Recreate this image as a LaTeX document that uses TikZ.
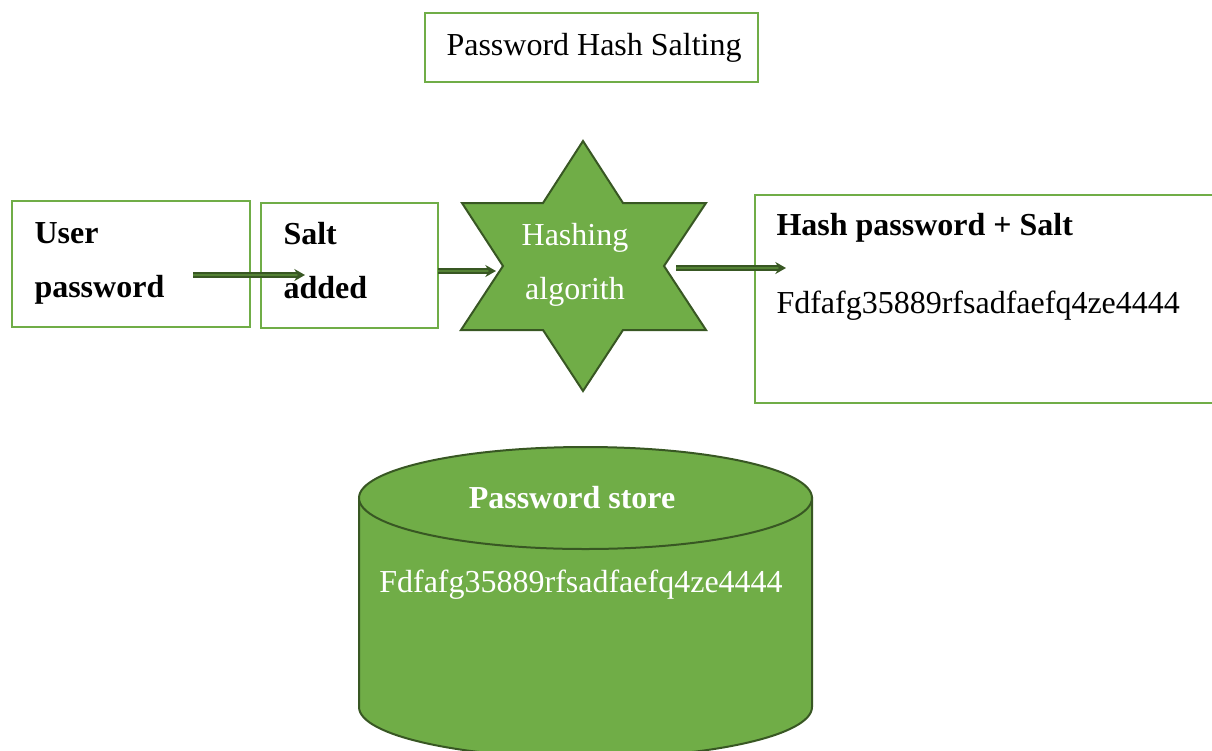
\documentclass[tikz,border=0pt]{standalone}
\usepackage{fontspec}
\setmainfont{Liberation Serif}
\usetikzlibrary{arrows.meta}

\definecolor{boxgreen}{HTML}{70AD47}
\definecolor{darkgreen}{HTML}{385723}
\definecolor{midgreen}{HTML}{548235}

\tikzset{every picture/.style={line width=0.75pt}}
\tikzset{
  box/.style={draw=boxgreen, line width=1.5},
  shapefill/.style={draw=darkgreen, fill=boxgreen, line width=1.5},
  flow/.style={draw=darkgreen, double=midgreen, double distance=1.8pt, line width=1.4pt, -{Stealth[length=8pt,width=9pt]}},
  txt/.style={inner sep=0pt, font=\fontsize{24}{40.5}\selectfont},
}

\begin{document}
\begin{tikzpicture}[x=0.75pt,y=0.75pt,yscale=-1,xscale=1]
	\useasboundingbox (0,0) rectangle (1212,750);
	\clip (0,0) rectangle (1212,750);
	
	%Shape: Rectangle [title]
	\draw [box] (425,13) rectangle (758,82);
	%Shape: Rectangle [user]
	\draw [box] (12,201) rectangle (250,327);
	%Shape: Rectangle [salt]
	\draw [box] (261,203) rectangle (438,328);
	%Shape: Rectangle [result] - runs off the right edge
	\draw [box] (755,195) rectangle (1225,403);
	
	%Shape: Star
	\draw [shapefill] (583,141) -- (623,203) -- (706,203) -- (664,266) -- (706,330) -- (623,330) -- (583,391) -- (543,330) -- (461,330) -- (503,266) -- (462,203) -- (543,203) -- cycle;
	
	%Shape: Can
	\draw [shapefill] (359,498) -- (359,707) arc [start angle=180, end angle=0, x radius=226.5, y radius=51] -- (812,498) -- cycle;
	\draw [shapefill] (585.5,498) ellipse [x radius=226.5, y radius=51];
	
	% Text Node
	\node (title) [txt, anchor=base west] at (446,55) {Password Hash Salting};
	% Text Node
	\node (user) [txt, anchor=north west, align=left, font=\fontsize{24}{40.5}\selectfont\bfseries] at (34,222) {User\\password};
	% Text Node
	\node (salt) [txt, anchor=north west, align=left, font=\fontsize{24}{40.5}\selectfont\bfseries] at (283,222) {Salt\\added};
	% Text Node
	\node (hashing) [txt, anchor=north, align=center, text=white] at (575,223) {Hashing\\algorith};
	% Text Node
	\node (hashpw) [txt, anchor=base west, font=\fontsize{24}{40.5}\selectfont\bfseries] at (776,235) {Hash password + Salt};
	% Text Node
	\node (hashval) [txt, anchor=base west] at (776,313) {Fdfafg35889rfsadfaefq4ze4444};
	% Text Node
	\node (store) [txt, anchor=base, text=white, font=\fontsize{24}{40.5}\selectfont\bfseries] at (572,508) {Password store};
	% Text Node
	\node (storeval) [txt, anchor=base, text=white] at (581,592) {Fdfafg35889rfsadfaefq4ze4444};
	
	%Arrows
	\coordinate (a1s) at (193,275);
	\coordinate (a1e) at (305,275);
	\coordinate (a2s) at (438,271);
	\coordinate (a2e) at (496,271);
	\coordinate (a3s) at (676,268);
	\coordinate (a3e) at (786,268);
	\draw [flow] (a1s) -- (a1e);
	\draw [flow] (a2s) -- (a2e);
	\draw [flow] (a3s) -- (a3e);
	
\end{tikzpicture}
\end{document}
